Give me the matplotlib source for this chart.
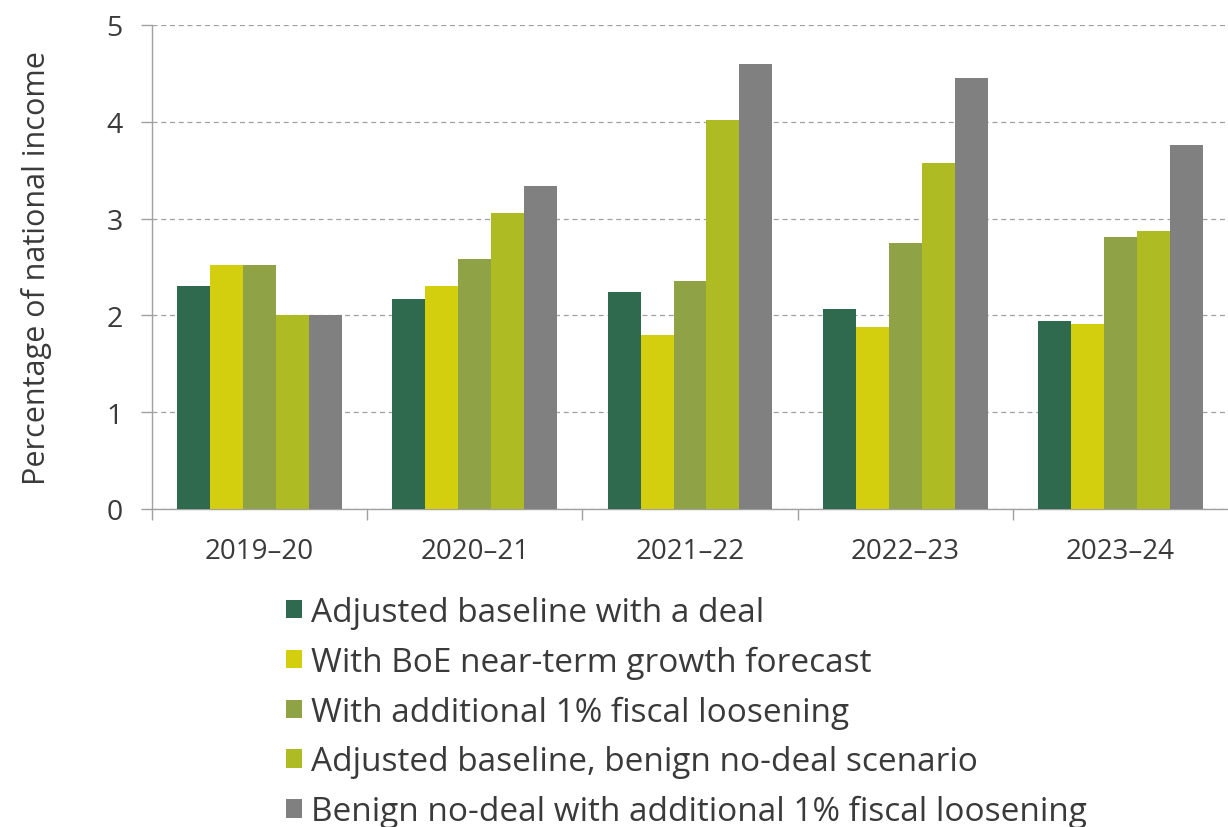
import numpy as np
import matplotlib
matplotlib.use("Agg")
import matplotlib.pyplot as plt
from matplotlib.patches import Patch

years = ["2019–20", "2020–21", "2021–22", "2022–23", "2023–24"]
series_names = [
    "Adjusted baseline with a deal",
    "With BoE near-term growth forecast",
    "With additional 1% fiscal loosening",
    "Adjusted baseline, benign no-deal scenario",
    "Benign no-deal with additional 1% fiscal loosening",
]
deal = [2.30, 2.17, 2.24, 2.07, 1.94]
boe = [2.52, 2.30, 1.80, 1.88, 1.91]
fiscal = [2.52, 2.58, 2.36, 2.75, 2.81]
no_deal = [2.00, 3.06, 4.02, 3.57, 2.87]
no_deal_fiscal = [2.00, 3.34, 4.60, 4.45, 3.76]
colors = ["#2f6a4f", "#d4cf0e", "#8fa246", "#afbb22", "#808080"]

plt.rcParams["font.family"] = ["Open Sans", "DejaVu Sans"]
text_col = "#3a3a3a"
axis_col = "#a0a0a0"

fig = plt.figure(figsize=(12.28, 8.28), dpi=100)
ax = fig.add_axes([152 / 1228, 1 - 510 / 828, 1 - 152 / 1228, (510 - 26) / 828])

x = np.arange(len(years))
width = 0.153
all_series = [deal, boe, fiscal, no_deal, no_deal_fiscal]
for i, (vals, c) in enumerate(zip(all_series, colors)):
    ax.bar(x + (i - 2) * width, vals, width, color=c, zorder=3)

ax.set_xlim(-0.5, len(years) - 0.5)
ax.set_ylim(0, 5)
ax.set_yticks(range(6))
ax.yaxis.grid(True, linestyle=(0, (4, 3)), color="#a0a0a0", linewidth=0.9, zorder=0)

ax.set_xticks(x)
ax.set_xticklabels(years)
ax.set_xticks(np.arange(len(years)) - 0.5, minor=True)
ax.tick_params(axis="x", which="major", length=0, pad=20, labelsize=20, labelcolor=text_col)
ax.tick_params(axis="x", which="minor", length=8, color=axis_col, width=1)
ax.tick_params(axis="y", length=8, color=axis_col, width=1, pad=13, labelsize=20.5, labelcolor=text_col)

for s in ["top", "right"]:
    ax.spines[s].set_visible(False)
for s in ["left", "bottom"]:
    ax.spines[s].set_color(axis_col)
    ax.spines[s].set_linewidth(1)

ax.set_ylabel("Percentage of national income", fontsize=22, color=text_col)
ax.yaxis.set_label_coords((52 - 152) / 1076, 0.5)

handles = [Patch(facecolor=c, edgecolor="none") for c in colors]
fig.legend(handles, series_names, loc="upper left", bbox_to_anchor=(286 / 1228, 1 - 597 / 828),
           frameon=False, fontsize=24, handlelength=0.48, handleheight=0.48, handletextpad=0.28,
           labelspacing=0.5, borderpad=0, borderaxespad=0, labelcolor=text_col)

plt.savefig("out.png", dpi=100)
